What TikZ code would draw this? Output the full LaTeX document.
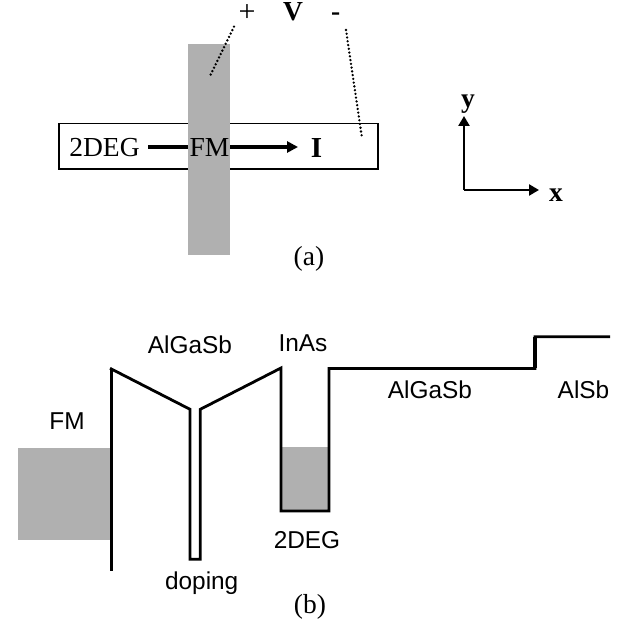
\documentclass[tikz,border=0pt]{standalone}
\usepackage{fontspec}
\setmainfont{Liberation Serif}
\newfontfamily\arialf{Liberation Sans}
\usetikzlibrary{arrows.meta}
\definecolor{fmgray}{HTML}{B0B0B0}
\tikzset{
  serif/.style={inner sep=0pt,anchor=base,font=\fontsize{27.5}{30}\selectfont},
  serifb/.style={inner sep=0pt,anchor=base,font=\fontsize{27.5}{30}\selectfont\bfseries},
  sans/.style={inner sep=0pt,anchor=base,font=\arialf\fontsize{24.4}{28}\selectfont},
  fmfill/.style={fill=fmgray,draw=none},
  band/.style={draw=black,line width=2.8pt,line join=miter,line cap=butt},
  bandstep/.style={draw=black,line width=3.8pt,line cap=butt},
  wire/.style={draw=black,line width=2.6pt,line cap=round,dash pattern=on 0pt off 3.8pt},
  current/.style={draw=black,line width=3.2pt,-{Triangle[length=11pt,width=11pt]}},
  axis/.style={draw=black,line width=2.6pt,-{Triangle[length=10pt,width=11pt]}},
  devbox/.style={draw=black,line width=1.6pt,fill=white}
}
\begin{document}
\begin{tikzpicture}[x=1pt,y=-1pt]
\useasboundingbox (0,0) rectangle (633,623);
% (a)
\draw[devbox] (59,123.7) rectangle (377.7,169);
\coordinate (cs) at (148,147);
\coordinate (ce) at (298,147);
\draw[current] (cs) -- (ce);
\path[fmfill] (188.3,43.7) rectangle (230,254.7);
\node[serif] (deg) at (104.5,157) {2DEG};
\node[serif] (fma) at (209.5,157) {FM};
\node[serifb,font=\fontsize{29}{32}\selectfont\bfseries] (cur) at (316.5,158) {I};
\node[serif,font=\fontsize{30}{32}\selectfont] (plus) at (247,22) {+};
\node[serifb] (volt) at (293,21) {V};
\node[serifb] (minus) at (335.7,21) {-};
\coordinate (p1) at (234,26.7);
\coordinate (p2) at (210,76);
\coordinate (m1) at (346,30);
\coordinate (m2) at (361.7,136);
\draw[wire] (p1) -- (p2);
\draw[wire] (m1) -- (m2);
\node[serif] (capa) at (309,266) {(a)};
% axes
\coordinate (o) at (464,190);
\coordinate (oy) at (464,116);
\coordinate (ox) at (539,190);
\draw[axis] (o) -- (oy);
\draw[axis] (o) -- (ox);
\node[serifb] (ylab) at (468,107.5) {y};
\node[serifb] (xlab) at (556,201.5) {x};
% (b)
\path[fmfill] (18,447.7) rectangle (111,539.7);
\path[fmfill] (281,446.7) rectangle (329,511);
\coordinate (b0) at (111.3,570.7);
\coordinate (b1) at (111.3,369);
\coordinate (s1) at (110,368.3);
\coordinate (s2) at (190,409.3);
\coordinate (s3) at (190,559.3);
\coordinate (s4) at (200.3,559.3);
\coordinate (s5) at (200.3,409.3);
\coordinate (s6) at (281,368);
\coordinate (w1) at (281,511);
\coordinate (w2) at (329,511);
\coordinate (w3) at (329,368.5);
\coordinate (w4) at (535,368.5);
\coordinate (w5) at (535,336.7);
\coordinate (w6) at (610,336.7);
\draw[band] (b0) -- (b1);
\draw[band] (s1) -- (s2) -- (s3) -- (s4) -- (s5) -- (s6) -- (w1) -- (w2) -- (w3) -- (w4) -- (w5) -- (w6);
\draw[bandstep] (w4) -- (w5);
\node[sans] (fmb) at (67,429) {FM};
\node[sans] (alg1) at (190,354) {AlGaSb};
\node[sans] (inas) at (303,352) {InAs};
\node[sans] (deg2) at (307,548) {2DEG};
\node[sans] (dop) at (201.7,589) {doping};
\node[sans] (alg2) at (430,399) {AlGaSb};
\node[sans] (alsb) at (583.5,399) {AlSb};
\node[serif] (capb) at (310,613) {(b)};
\end{tikzpicture}
\end{document}
